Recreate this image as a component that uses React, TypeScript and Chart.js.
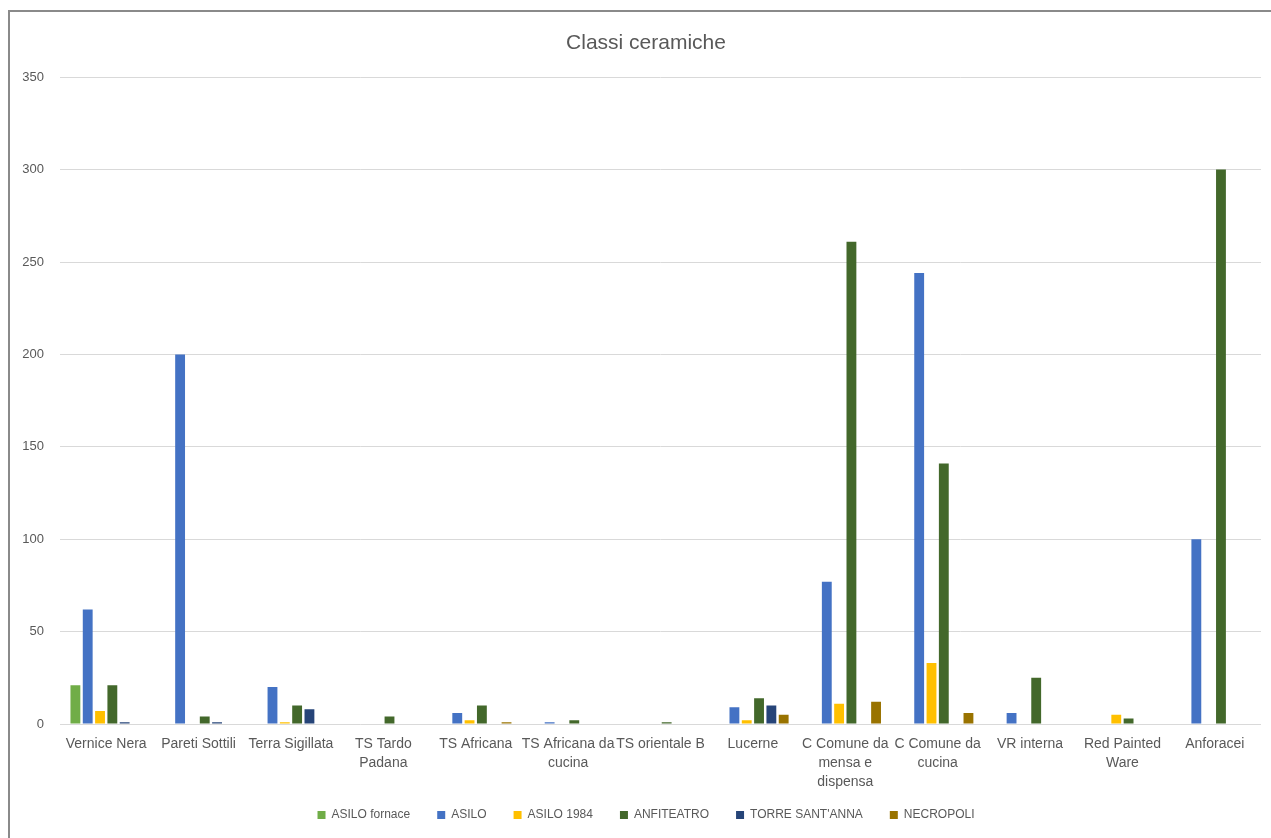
import React, { useEffect, useRef } from "react";
import { Chart, registerables } from "chart.js";

Chart.register(...registerables);

const categories: (string | string[])[] = [
  "Vernice Nera",
  "Pareti Sottili",
  "Terra Sigillata",
  ["TS Tardo", "Padana"],
  "TS Africana",
  ["TS Africana da", "cucina"],
  "TS orientale B",
  "Lucerne",
  ["C Comune da", "mensa e", "dispensa"],
  ["C Comune da", "cucina"],
  "VR interna",
  ["Red Painted", "Ware"],
  "Anforacei",
];

const asiloFornace = [21, 0, 0, 0, 0, 0, 0, 0, 0, 0, 0, 0, 0];
const asilo = [62, 200, 20, 0, 6, 1, 0, 9, 77, 244, 6, 0, 100];
const asilo1984 = [7, 0, 1, 0, 2, 0, 0, 2, 11, 33, 0, 5, 0];
const anfiteatro = [21, 4, 10, 4, 10, 2, 1, 14, 261, 141, 25, 3, 300];
const torreSantAnna = [1, 1, 8, 0, 0, 0, 0, 10, 0, 0, 0, 0, 0];
const necropoli = [0, 0, 0, 0, 1, 0, 0, 5, 12, 6, 0, 0, 0];

const seriesNames = ["ASILO fornace", "ASILO", "ASILO 1984", "ANFITEATRO", "TORRE SANT'ANNA", "NECROPOLI"];
const seriesValues = [asiloFornace, asilo, asilo1984, anfiteatro, torreSantAnna, necropoli];
const seriesColors = ["#70AD47", "#4472C4", "#FFC000", "#43682B", "#264478", "#997300"];

const yTicks = [0, 50, 100, 150, 200, 250, 300, 350];

const FONT = "'Liberation Sans', Arial, sans-serif";
const TEXT = "#595959";

const labelRoom = {
  id: "labelRoom",
  afterLayout(chart: any) {
    const x = chart.scales.x;
    if (x) x.bottom = chart.height;
  },
};

export default function App() {
  const ref = useRef<HTMLCanvasElement | null>(null);

  useEffect(() => {
    if (!ref.current) return;
    const chart = new Chart(ref.current, {
      type: "bar",
      data: {
        labels: categories,
        datasets: seriesNames.map((name, i) => ({
          label: name,
          data: seriesValues[i],
          backgroundColor: seriesColors[i],
          borderWidth: 0,
          categoryPercentage: 0.8,
          barPercentage: 0.8,
        })),
      },
      plugins: [labelRoom],
      options: {
        animation: false,
        responsive: false,
        layout: { padding: { left: 0, right: 0, top: 0, bottom: 7 } },
        plugins: {
          title: {
            display: true,
            text: "Classi ceramiche",
            color: TEXT,
            font: { family: FONT, size: 21, weight: "normal" },
            padding: { top: 19, bottom: 21 },
            fullSize: true,
          },
          legend: {
            position: "bottom",
            fullSize: true,
            labels: {
              boxWidth: 8,
              boxHeight: 8,
              padding: 27,
              color: TEXT,
              font: { family: FONT, size: 12 },
            },
          },
          tooltip: { enabled: false },
        },
        scales: {
          x: {
            grid: { display: false, drawTicks: false },
            border: { display: false },
            ticks: {
              color: TEXT,
              font: { family: FONT, size: 14, lineHeight: 1.36 },
              padding: 11,
              maxRotation: 0,
              autoSkip: false,
            },
            afterFit: (scale: any) => {
              scale.height = 58;
            },
          },
          y: {
            min: 0,
            max: 350,
            afterBuildTicks: (scale: any) => {
              scale.ticks = yTicks.map((v) => ({ value: v }));
            },
            grid: { color: "#d9d9d9", lineWidth: 1, drawTicks: false },
            border: { display: false },
            ticks: {
              color: TEXT,
              font: { family: FONT, size: 13 },
              padding: 16,
            },
            afterFit: (scale: any) => {
              scale.width = 50;
            },
          },
          yRight: {
            type: "linear",
            position: "right",
            display: true,
            grid: { display: false, drawTicks: false },
            border: { display: false },
            ticks: { display: false },
            afterFit: (scale: any) => {
              scale.width = 21;
            },
          },
        },
      },
    });
    return () => chart.destroy();
  }, []);

  return (
    <div
      style={{
        position: "absolute",
        left: 8,
        top: 10,
        width: 1263,
        height: 828,
        boxSizing: "border-box",
        borderTop: "2px solid #8a8a8a",
        borderLeft: "2px solid #8a8a8a",
        overflow: "hidden",
        background: "#fff",
      }}
    >
      <canvas ref={ref} width={1272} height={826} style={{ display: "block" }} />
    </div>
  );
}
